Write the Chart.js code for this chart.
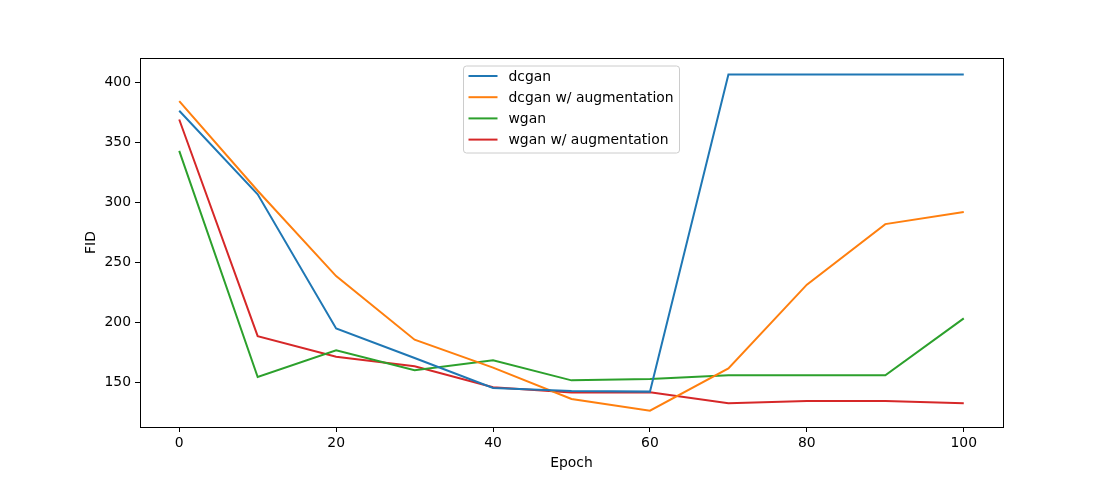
<!DOCTYPE html>
<html>
<head>
<meta charset="utf-8">
<script src="https://cdn.jsdelivr.net/npm/chart.js@4"></script>
<style>
  body { margin: 0; background: #fff; }
  canvas { display: block; }
</style>
</head>
<body>
<canvas id="fidChart" width="1114" height="480"></canvas>
<script>
const epochs = [0, 10, 20, 30, 40, 50, 60, 70, 80, 90, 100];
const dcgan = [376.7, 307, 195.2, 170.5, 145.5, 143.1, 142.5, 406.9, 406.9, 406.9, 406.9];
const dcganAug = [384.7, 310, 238.8, 185.8, 162.5, 136.4, 126.6, 161.8, 231.7, 282.2, 292.2];
const wgan = [343.3, 154.7, 176.9, 160.3, 168.6, 151.9, 153.0, 156.1, 156.1, 156.1, 203.6];
const wganAug = [369.4, 188.8, 171.6, 163.6, 146.2, 141.7, 141.9, 132.8, 134.7, 134.7, 132.8];

const seriesNames = ["dcgan", "dcgan w/ augmentation", "wgan", "wgan w/ augmentation"];
const seriesColors = ["#1f77b4", "#ff7f0e", "#2ca02c", "#d62728"];
const xTicks = [0, 20, 40, 60, 80, 100];
const yTicks = [150, 200, 250, 300, 350, 400];

const FONT = "DejaVu Sans";
const FS = 13.9;

Chart.defaults.font.family = FONT;
Chart.defaults.font.size = FS;
Chart.defaults.color = "#000";

function toPoints(values) {
  return values.map((v, i) => ({ x: epochs[i], y: v }));
}

// matplotlib-style frame + legend inside the axes
const framePlugin = {
  id: "frame",
  afterDraw(chart) {
    const { ctx, chartArea: a } = chart;
    ctx.save();
    ctx.strokeStyle = "#000";
    ctx.lineWidth = 1;
    ctx.strokeRect(a.left + 0.5, a.top + 0.5, a.right - a.left, a.bottom - a.top);

    // legend box
    const bx = 463, by = 65.5, bw = 216, bh = 87;
    ctx.fillStyle = "rgba(255,255,255,0.8)";
    ctx.strokeStyle = "#cccccc";
    ctx.beginPath();
    ctx.roundRect(bx + 0.5, by + 0.5, bw, bh, 3);
    ctx.fill();
    ctx.stroke();

    ctx.font = FS + "px '" + FONT + "'";
    ctx.textBaseline = "middle";
    chart.data.datasets.forEach((ds, i) => {
      const y = 76 + i * 21.2;
      ctx.strokeStyle = ds.borderColor;
      ctx.lineWidth = 2;
      ctx.beginPath();
      ctx.moveTo(468.5, y);
      ctx.lineTo(497.5, y);
      ctx.stroke();
      ctx.fillStyle = "#000";
      ctx.fillText(ds.label, 508.5, y + 1);
    });
    ctx.restore();
  },
};

new Chart(document.getElementById("fidChart"), {
  type: "line",
  data: {
    datasets: [dcgan, dcganAug, wgan, wganAug].map((vals, i) => ({
      label: seriesNames[i],
      data: toPoints(vals),
      borderColor: seriesColors[i],
      backgroundColor: seriesColors[i],
      borderWidth: 2,
      pointRadius: 0,
      tension: 0,
      fill: false,
    })),
  },
  options: {
    responsive: false,
    animation: false,
    layout: { padding: { left: 83, right: 111, top: 58, bottom: 0 } },
    plugins: { legend: { display: false }, tooltip: { enabled: false } },
    scales: {
      x: {
        type: "linear",
        min: -5,
        max: 105,
        afterBuildTicks: (s) => { s.ticks = xTicks.map((v) => ({ value: v })); },
        afterFit: (s) => { s.height = 53; },
        grid: { display: true, drawOnChartArea: false, tickLength: 5, color: "#000" },
        border: { display: true, color: "#000" },
        ticks: { padding: 3, maxRotation: 0 },
        title: { display: true, text: "Epoch", padding: { top: 0, bottom: 8 } },
      },
      y: {
        type: "linear",
        min: 113,
        max: 420.7,
        afterBuildTicks: (s) => { s.ticks = yTicks.map((v) => ({ value: v })); },
        afterFit: (s) => { s.width = 57; },
        grid: { display: true, drawOnChartArea: false, tickLength: 5, color: "#000" },
        border: { display: true, color: "#000" },
        ticks: { padding: 4 },
        title: { display: true, text: "FID", padding: { top: 0, bottom: 0 } },
      },
    },
  },
  plugins: [framePlugin],
});
</script>
</body>
</html>
